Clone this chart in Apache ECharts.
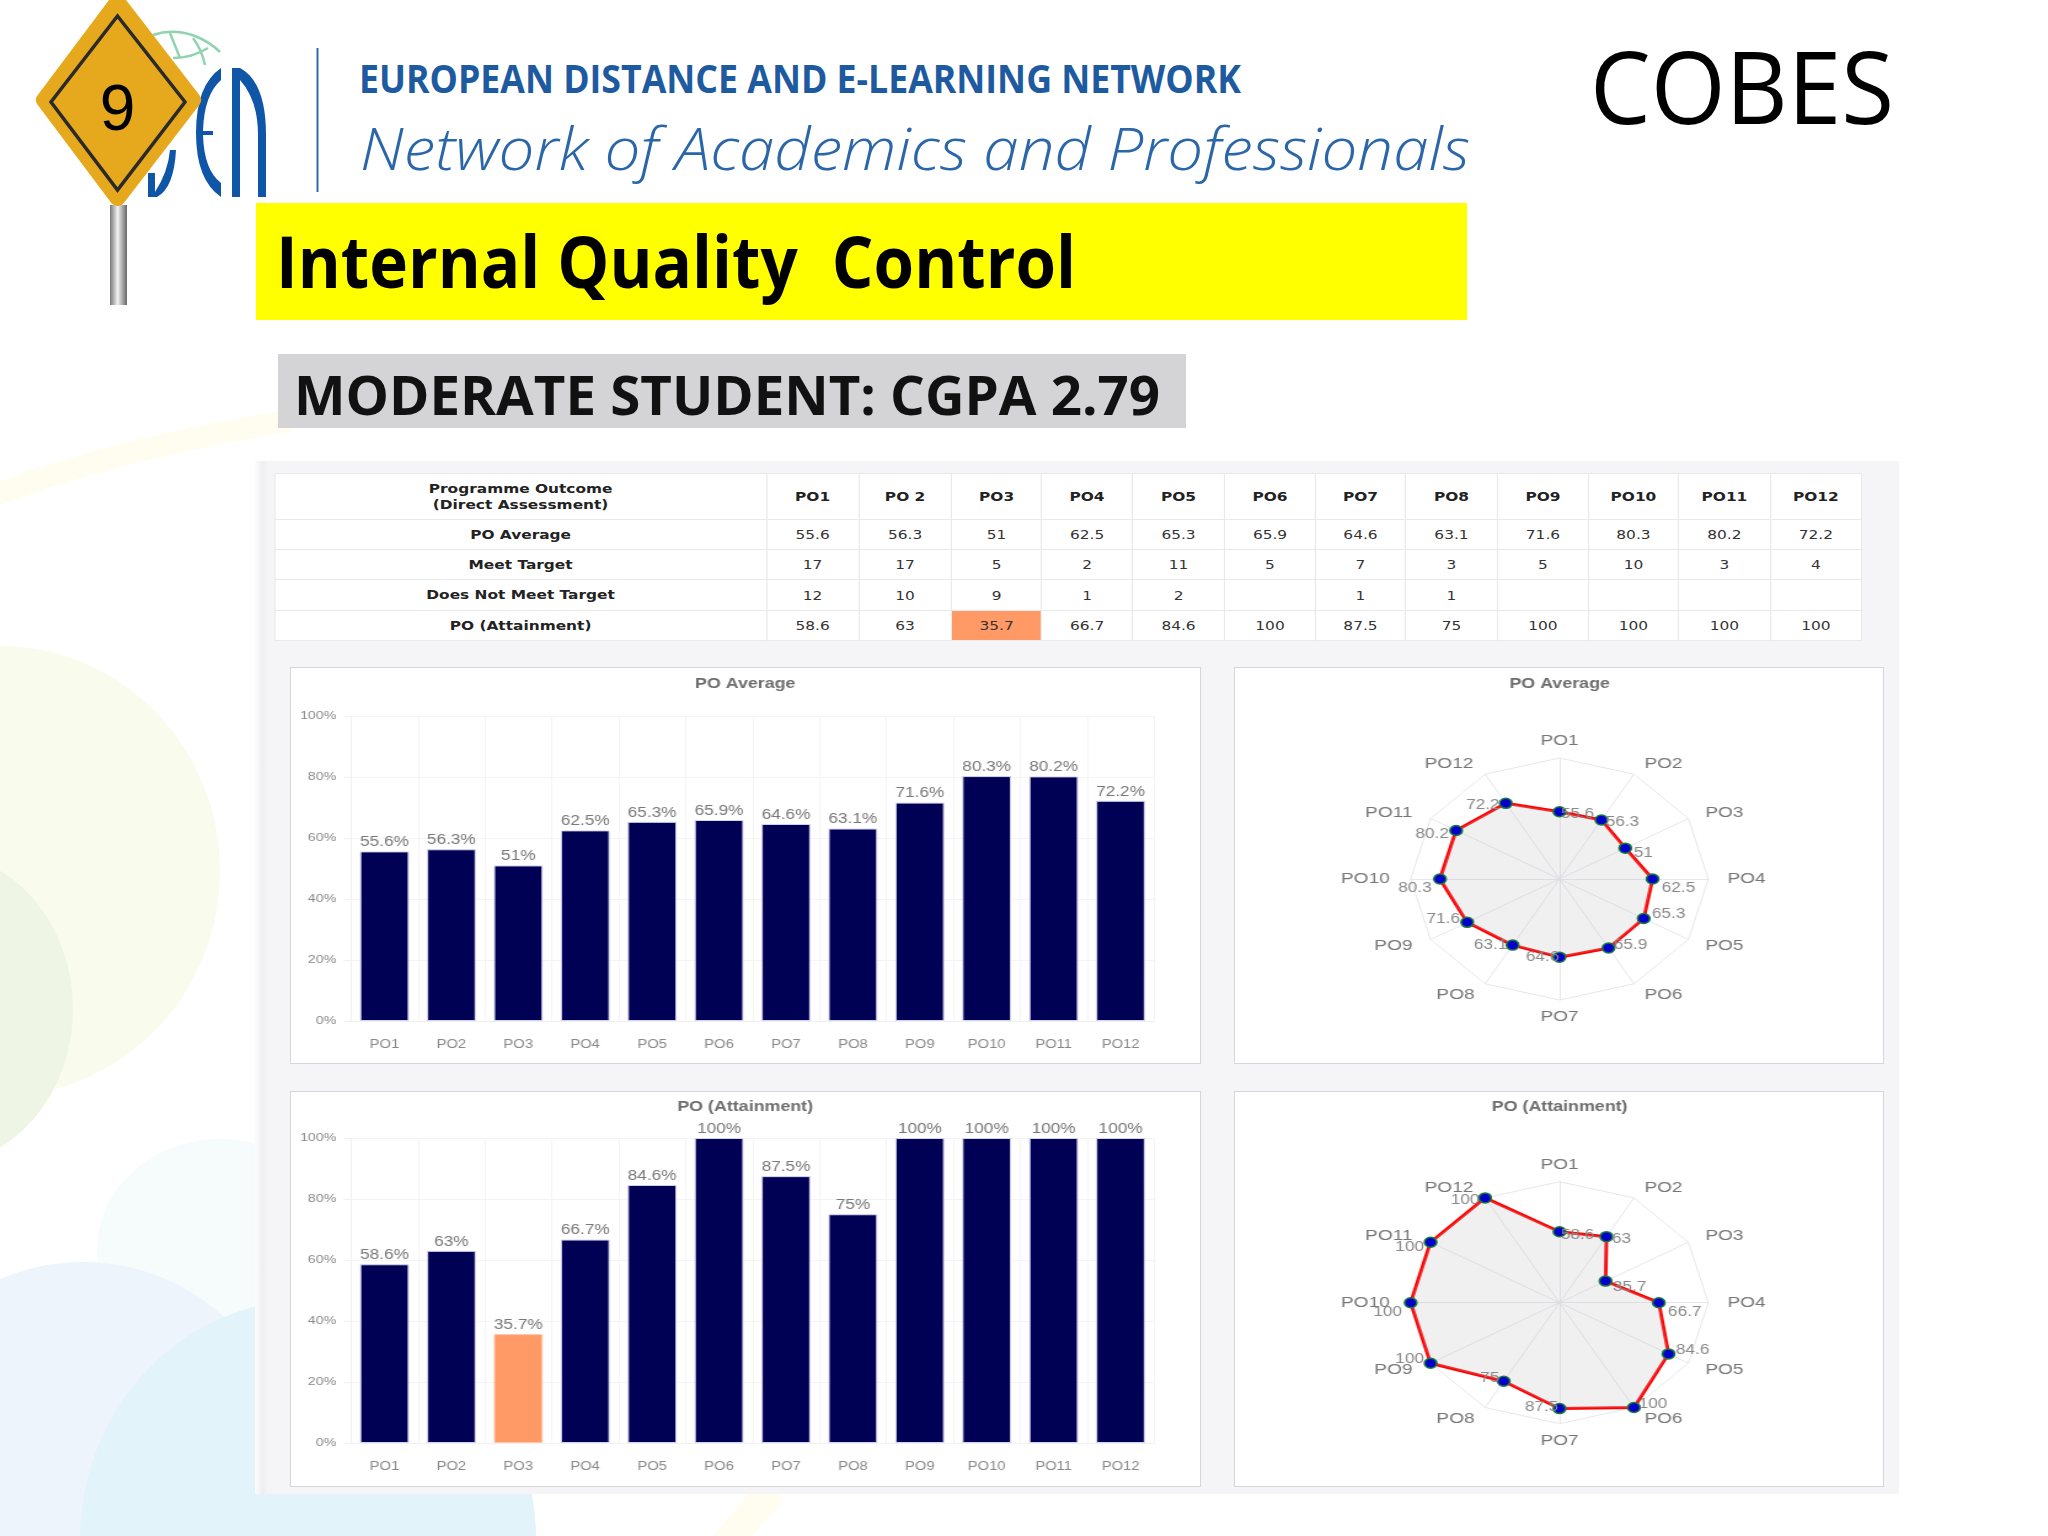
<!DOCTYPE html>
<html><head><meta charset="utf-8">
<script src="https://cdn.jsdelivr.net/npm/echarts@6/dist/echarts.min.js"></script>
<style>
html,body{margin:0;padding:0;width:2048px;height:1536px;overflow:hidden;background:#fff;font-family:"Liberation Sans",sans-serif}
#bg{position:absolute;left:0;top:0}
.box{position:absolute;background:#fff;border:1.5px solid #d6d6da;box-sizing:border-box}
#sheet{position:absolute;left:255px;top:461px;width:1644px;height:1033px;background:linear-gradient(to right,#fcfcfd 0,#eeeef2 8px,#f5f5f8 13px,#f5f5f8 100%)}
#stretch{position:absolute;left:0;top:0;height:1536px;transform-origin:0 0}
#chart{position:absolute;left:0;top:0;height:1536px}
#tbl{position:absolute;top:473px;border-collapse:collapse;table-layout:fixed;background:#fff;font-family:"DejaVu Sans",sans-serif;color:#333;font-size:12.5px;text-align:center}
#tbl td{border:1.5px solid #e9e9ec;padding:0;overflow:hidden;white-space:nowrap}
#tbl td.b{font-weight:bold;color:#222;font-size:12.5px}
#tbl td.hi{background:#ff9966}
</style></head><body>
<svg id="bg" width="2048" height="1536" xmlns="http://www.w3.org/2000/svg">
  <defs><linearGradient id="pole" x1="0" x2="1" y1="0" y2="0">
    <stop offset="0" stop-color="#777"/><stop offset=".45" stop-color="#f2f2f2"/><stop offset="1" stop-color="#666"/></linearGradient></defs>
  <ellipse cx="0" cy="871" rx="220" ry="225" fill="#f9fbed"/>
  <ellipse cx="-60" cy="1009" rx="133" ry="155" fill="#eef5e4"/>
  <ellipse cx="220" cy="1250" rx="123" ry="111" fill="#f6fbfb"/>
  <ellipse cx="83" cy="1462" rx="205" ry="200" fill="#edf4fb"/>
  <ellipse cx="308" cy="1540" rx="228" ry="240" fill="#e2f3f9"/>
  <path d="M-10 497 Q120 447 290 421" fill="none" stroke="#fffcf0" stroke-width="22"/>
  <path d="M725 1545 L772 1490" fill="none" stroke="#fffcf0" stroke-width="30"/>

  <path d="M153 35 Q173 28 195 36 Q210 42 220 52 M173 58 Q192 58 208 48 M170 33 L180 58 M193 38 Q202 50 205 65" fill="none" stroke="#8fd3b0" stroke-width="2.5"/>
  <path d="M232 68 H240 V197 H232 Z M240 68 Q266 82 266 135 V197 H258 V135 Q258 100 240 80 Z" fill="#0f55a8"/>
  <path d="M221 68 Q196 85 196 133 Q196 180 221 197 V183 Q204 170 203 135 H213 V131 H203 Q204 95 221 80 Z" fill="#0f55a8"/>
  <path d="M176 150 Q174 188 157 197 H148 V173 H155 V192 Q168 172 170 150 Z" fill="#0f55a8"/>
  <rect x="110" y="205" width="17" height="100" fill="url(#pole)"/>
  <polygon points="117.5,2 193,100 117.5,198 44,100" fill="#e6a91e" stroke="#e6a91e" stroke-width="16" stroke-linejoin="round"/>
  <path d="M117.5 16 L185 102 L117.5 190 L51 102 Z" fill="none" stroke="#2a2a2a" stroke-width="3.5"/>
  <text x="117.5" y="130" font-family="Liberation Sans" font-size="64" text-anchor="middle" fill="#000">9</text>
  <rect x="316.5" y="48" width="2" height="144" fill="#2c6aad"/>

  <text x="359" y="93" font-family="Open Sans" font-weight="700" font-size="39" fill="#1e5aa0" textLength="882" lengthAdjust="spacingAndGlyphs">EUROPEAN DISTANCE AND E-LEARNING NETWORK</text>
  <text x="360" y="170" font-family="Open Sans" font-style="italic" font-weight="300" font-size="58" fill="#2a66a8" textLength="1110" lengthAdjust="spacingAndGlyphs">Network of Academics and Professionals</text>
  <text x="1590" y="124" font-family="Open Sans" font-size="100" fill="#000" textLength="304" lengthAdjust="spacingAndGlyphs">COBES</text>

  <rect x="256" y="203" width="1211" height="117" fill="#ffff00"/>
  <text x="276" y="288" font-family="Open Sans" font-weight="700" font-size="71" fill="#000" textLength="800" lengthAdjust="spacingAndGlyphs" xml:space="preserve">Internal Quality  Control</text>
  <rect x="278" y="354" width="908" height="74" fill="#d4d4d6"/>
  <text x="294" y="415" font-family="Open Sans" font-weight="700" font-size="53" fill="#111" textLength="866" lengthAdjust="spacingAndGlyphs">MODERATE STUDENT: CGPA 2.79</text>
</svg>
<div id="sheet"></div>
<div class="box" style="left:290px;top:667px;width:911px;height:397px"></div>
<div class="box" style="left:1234px;top:667px;width:650px;height:397px"></div>
<div class="box" style="left:290px;top:1091px;width:911px;height:396px"></div>
<div class="box" style="left:1234px;top:1091px;width:650px;height:396px"></div>
<div id="stretch"><table id="tbl"></table><div id="chart"></div></div>
<script>
// ---- chart values ----
const categories = ['PO1','PO2','PO3','PO4','PO5','PO6','PO7','PO8','PO9','PO10','PO11','PO12'];
const tableHeads = ['PO1','PO 2','PO3','PO4','PO5','PO6','PO7','PO8','PO9','PO10','PO11','PO12'];
const poAverage = [55.6,56.3,51,62.5,65.3,65.9,64.6,63.1,71.6,80.3,80.2,72.2];
const meetTarget = [17,17,5,2,11,5,7,3,5,10,3,4];
const notMeetTarget = [12,10,9,1,2,'',1,1,'','','',''];
const poAttainment = [58.6,63,35.7,66.7,84.6,100,87.5,75,100,100,100,100];
const yTicks = {min:0,max:100,interval:20};
const lowIndex = 2;

// ---- layout (the source is a screenshot stretched sideways; so is this) ----
const SX = 1.23;
const X = v => v / SX;
const columnEdges = [274,766,858,951,1041,1132,1224,1315,1405,1497,1588,1678,1770,1861];
const rowHeights = [46,30,30,31,30];
const avgLabelOffsets = [[18,2],[21,2],[18,5],[26,9],[25,-4],[22,-3],[-17,0],[-22,0],[-24,-3],[-25,9],[-24,4],[-23,2]];
const attLabelOffsets = [[18,3],[15,2],[24,6],[26,9],[24,-4],[19,-3],[-18,-1],[-14,-3],[-21,-4],[-23,9],[-21,5],[-20,2]];
// spoke-name nudges [top,right,bottom,left]
const nameNudges = [[0,0,0,0],[0,0,5,4],[0,0,3,6],[0,0,0,6.5],[4,0,0,6],[6.5,0,0,4],[0,0,0,0],[6.5,4,0,0],[4,7,0,0],[0,8,0,0],[0,7,3,0],[0,5,5,0]];
// ECharts lays radar spokes counter-clockwise; the reference runs clockwise.
const radarOrder = categories.map((_, i) => (categories.length - i) % categories.length);

const stretch = document.getElementById('stretch');
stretch.style.width = X(2048) + 'px';
stretch.style.transform = 'scaleX(' + SX + ')';
document.getElementById('chart').style.width = X(2048) + 'px';

// table
const tbl = document.getElementById('tbl');
tbl.style.left = X(columnEdges[0]) + 'px';
tbl.style.width = X(columnEdges[13]-columnEdges[0]) + 'px';
const cg = document.createElement('colgroup');
for (let i=0;i<13;i++){const c=document.createElement('col');c.style.width=X(columnEdges[i+1]-columnEdges[i])+'px';cg.appendChild(c);}
tbl.appendChild(cg);
function addRow(label, vals, h, bold, hiIdx){
  const tr=document.createElement('tr');tr.style.height=h+'px';
  const td=document.createElement('td');td.className='b';td.innerHTML=label;td.style.lineHeight='16px';tr.appendChild(td);
  vals.forEach((v,i)=>{const c=document.createElement('td');c.textContent=v;
    if(bold)c.className='b';if(i===hiIdx)c.className='hi';tr.appendChild(c);});
  tbl.appendChild(tr);
}
addRow('Programme Outcome<br>(Direct Assessment)',tableHeads,rowHeights[0],true);
addRow('PO Average',poAverage,rowHeights[1]);
addRow('Meet Target',meetTarget,rowHeights[2]);
addRow('Does Not Meet Target',notMeetTarget,rowHeights[3]);
addRow('PO (Attainment)',poAttainment,rowHeights[4],false,lowIndex);

// charts
const font = '"Liberation Sans",sans-serif';
const navy = '#000054', orange = '#ff9966';
function barSeries(vals, gi, hi){
  return {type:'bar',xAxisIndex:gi,yAxisIndex:gi,barWidth:'73%',silent:true,
    data:vals.map((v,i)=>({value:v,itemStyle:{color:i===hi?orange:navy,borderColor:i===hi?'#ffc9a8':'#d4d4ec',borderWidth:1}})),
    label:{show:true,position:'top',distance:2,formatter:p=>p.value+'%',fontFamily:font,fontSize:14,color:'#777'}};
}
function xAxis(gi){return {type:'category',gridIndex:gi,data:categories,
  axisLine:{lineStyle:{color:'#f0f0f2'}},axisTick:{length:7,lineStyle:{color:'#f0f0f2'}},
  splitLine:{show:true,lineStyle:{color:'#f4f4f6'}},
  axisLabel:{interval:0,margin:18,fontFamily:font,fontSize:12,color:'#888'}};}
function yAxis(gi){return {type:'value',gridIndex:gi,min:yTicks.min,max:yTicks.max,interval:yTicks.interval,
  axisLine:{show:true,lineStyle:{color:'#f0f0f2'}},axisTick:{show:true,length:6,lineStyle:{color:'#f0f0f2'}},
  splitLine:{lineStyle:{color:'#f4f4f6'}},
  axisLabel:{margin:12,formatter:'{value}%',fontFamily:font,fontSize:11.5,color:'#888'}};}
const nameRich = {};
categories.forEach((c,i)=>{nameRich['n'+i]={padding:nameNudges[i],fontFamily:font,fontSize:15.5,color:'#777'};});
function radar(cy){return {center:[X(1559.5),cy],radius:121,startAngle:90,splitNumber:1,shape:'polygon',
  indicator:radarOrder.map(j=>({name:categories[j],max:100,min:0})),nameGap:9,
  axisName:{color:'#777',fontFamily:font,fontSize:15.5,rich:nameRich,
    formatter:name=>'{n'+categories.indexOf(name)+'|'+name+'}'},
  axisLine:{lineStyle:{color:'#e6e6ec'}},splitLine:{lineStyle:{color:'#e6e6ec'}},splitArea:{show:false},axisTick:{show:false},axisLabel:{show:false}};}
function radarSeries(ri, vals, offs){
  const rv=radarOrder.map(j=>vals[j]);
  const out=[{type:'radar',radarIndex:ri,silent:true,symbol:'circle',symbolSize:10,
    lineStyle:{color:'#ff0000',width:3},areaStyle:{color:'rgba(190,190,195,0.33)'},
    itemStyle:{color:'#0000cc',borderColor:'#1a7a3a',borderWidth:1.5},
    data:[{value:rv}]}];
  radarOrder.forEach((j,k)=>{out.push({type:'radar',radarIndex:ri,silent:true,symbol:'circle',symbolSize:1,
    lineStyle:{opacity:0,width:0},itemStyle:{opacity:0},
    label:{show:true,position:'inside',offset:[X(offs[j][0]),offs[j][1]],opacity:1,fontFamily:font,fontSize:14,color:'#888',
      formatter:p=>p.dimensionIndex===k?String(rv[k]):''},
    data:[{value:rv}]});});
  return out;
}
const titleStyle={fontFamily:font,fontSize:14.5,fontWeight:'bold',color:'#6e6e6e'};
const chart=echarts.init(document.getElementById('chart'),null,{renderer:'canvas'});
chart.setOption({
  animation:false,backgroundColor:'transparent',
  title:[
    {text:'PO Average',left:X(739),top:671,textAlign:'center',textStyle:titleStyle},
    {text:'PO Average',left:X(1553.5),top:671,textAlign:'center',textStyle:titleStyle},
    {text:'PO (Attainment)',left:X(739),top:1094,textAlign:'center',textStyle:titleStyle},
    {text:'PO (Attainment)',left:X(1553.5),top:1094,textAlign:'center',textStyle:titleStyle}
  ],
  grid:[
    {left:X(351),width:X(803),top:716,height:305},
    {left:X(351),width:X(803),top:1138,height:305}
  ],
  xAxis:[xAxis(0),xAxis(1)],
  yAxis:[yAxis(0),yAxis(1)],
  radar:[radar(879),radar(1302.7)],
  series:[barSeries(poAverage,0,-1),barSeries(poAttainment,1,lowIndex),
    ...radarSeries(0,poAverage,avgLabelOffsets),...radarSeries(1,poAttainment,attLabelOffsets)]
});
</script>
</body></html>
